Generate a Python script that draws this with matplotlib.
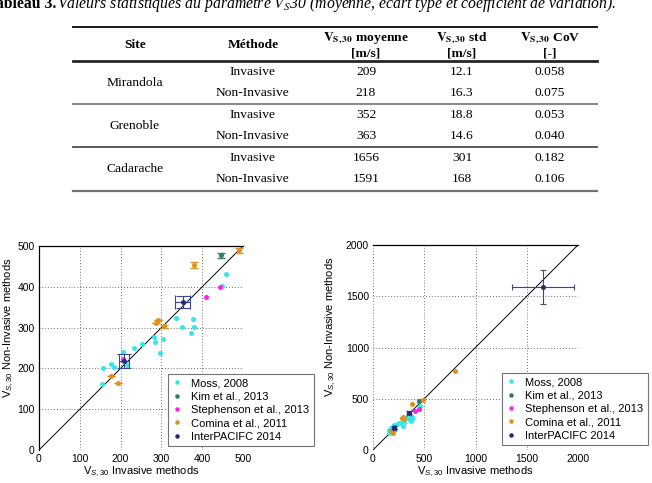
import matplotlib
matplotlib.use("Agg")
import matplotlib.pyplot as plt
from matplotlib.lines import Line2D

W, H = 652, 483

# Tableau 3 : valeurs statistiques de Vs30 par site
SITES = ["Mirandola", "Grenoble", "Cadarache"]
METHODS = ["Invasive", "Non-Invasive"]
VS30_MEAN = [[209, 218], [352, 363], [1656, 1591]]
VS30_STD = [[12.1, 16.3], [18.8, 14.6], [301, 168]]
VS30_COV = [[0.058, 0.075], [0.053, 0.040], [0.182, 0.106]]

# nuages de points (invasif, non-invasif)
MOSS_INV = [158, 155, 176, 185, 205, 215, 234, 252, 282, 284, 303, 296, 335, 350, 377, 381, 373, 448, 458]
MOSS_NON = [200, 162, 212, 204, 240, 209, 251, 260, 278, 264, 273, 238, 324, 301, 320, 301, 286, 403, 431]
KIM_INV = [445]
KIM_NON = [477]
KIM_ERR = [6]
STEPH_INV = [207, 409, 444]
STEPH_NON = [222, 376, 399]
COMINA_INV = [176, 193, 286, 291, 307, 381, 491, 800]
COMINA_NON = [182, 163, 311, 318, 303, 453, 490, 770]
COMINA_ERR = [0, 0, 0, 0, 4, 8, 6, 0]

LABELS = ["Moss, 2008", "Kim et al., 2013", "Stephenson et al., 2013",
          "Comina et al., 2011", "InterPACIFC 2014"]
COLORS = ["#33e8e8", "#2f7d66", "#ff22ee", "#e0901e", "#1f2a80"]

plt.rcParams["font.family"] = ["Liberation Sans", "DejaVu Sans"]
plt.rcParams["mathtext.fontset"] = "custom"
plt.rcParams["mathtext.rm"] = "Liberation Sans"
plt.rcParams["mathtext.it"] = "Liberation Sans:italic"
plt.rcParams["mathtext.bf"] = "Liberation Sans:bold"

fig = plt.figure(figsize=(W / 100, H / 100), dpi=100)


def fx(px):
    return px / W


def fy(py):
    return 1 - py / H


def hline(y, lw, color, x0=73, x1=597):
    fig.add_artist(Line2D([fx(x0), fx(x1)], [fy(y), fy(y)],
                          transform=fig.transFigure, lw=lw, color=color))


serif = dict(family=["Liberation Serif", "DejaVu Serif"], math_fontfamily="stix")

# légende du tableau (coupée en haut comme dans le document)
fig.text(fx(-13), fy(8.5), "Tableau 3.", fontsize=11.3, fontweight="bold",
         va="baseline", ha="left", **serif)
fig.text(fx(57), fy(8.5),
         r"Valeurs statistiques du paramètre $\mathit{V}_{\mathit{S}}$30 "
         "(moyenne, écart type et coefficient de variation).",
         fontsize=11.3, style="italic", va="baseline", ha="left", **serif)

# tableau
hline(27, 1.4, "0.1")
hline(61, 2.0, "0.15")
hline(104, 1.5, "0.55")
hline(147, 1.3, "0.3")
hline(191, 1.6, "0.45")

fs = 9.7
fig.text(fx(135), fy(45), "Site", ha="center", va="center", fontsize=fs, fontweight="bold", **serif)
fig.text(fx(253), fy(45), "Méthode", ha="center", va="center", fontsize=fs, fontweight="bold", **serif)
heads = [(366, r"$\mathbf{V_{S,30}}$ moyenne", "[m/s]"),
         (462, r"$\mathbf{V_{S,30}}$ std", "[m/s]"),
         (550, r"$\mathbf{V_{S,30}}$ CoV", "[-]")]
for x, l1, l2 in heads:
    fig.text(fx(x), fy(38), l1, ha="center", va="center", fontsize=fs, fontweight="bold", **serif)
    fig.text(fx(x), fy(54), l2, ha="center", va="center", fontsize=fs, fontweight="bold", **serif)

for i, site in enumerate(SITES):
    fig.text(fx(135), fy(83 + 43 * i), site, ha="center", va="center", fontsize=fs, **serif)
    for j, meth in enumerate(METHODS):
        y = fy(72 + 43 * i + 21 * j)
        fig.text(fx(253), y, meth, ha="center", va="center", fontsize=fs, **serif)
        fig.text(fx(366), y, f"{VS30_MEAN[i][j]}", ha="center", va="center", fontsize=fs, **serif)
        fig.text(fx(462), y, f"{VS30_STD[i][j]:g}", ha="center", va="center", fontsize=fs, **serif)
        fig.text(fx(550), y, f"{VS30_COV[i][j]:.3f}", ha="center", va="center", fontsize=fs, **serif)

inter_inv = [m[0] for m in VS30_MEAN]
inter_non = [m[1] for m in VS30_MEAN]
inter_xerr = [s[0] for s in VS30_STD]
inter_yerr = [s[1] for s in VS30_STD]


def scatter_panel(ax, vmax, step, capsize, leg_box, ylab_x, show_left):
    ax.plot([0, vmax], [0, vmax], color="k", lw=0.7, zorder=2)
    ms = 3.6
    ax.plot(MOSS_INV, MOSS_NON, "o", ms=ms, mew=0, color=COLORS[0], label=LABELS[0], zorder=3)
    ax.errorbar(KIM_INV, KIM_NON, yerr=KIM_ERR, fmt="none", ecolor=COLORS[1],
                elinewidth=0.8, capsize=capsize * 0.6, zorder=3)
    ax.plot(KIM_INV, KIM_NON, "o", ms=ms, mew=0, color=COLORS[1], label=LABELS[1], zorder=4)
    ax.plot(STEPH_INV, STEPH_NON, "o", ms=ms, mew=0, color=COLORS[2], label=LABELS[2], zorder=4)
    ax.errorbar(COMINA_INV, COMINA_NON, yerr=COMINA_ERR, fmt="none", ecolor=COLORS[3],
                elinewidth=0.8, capsize=capsize * 0.6, zorder=3)
    ax.plot(COMINA_INV, COMINA_NON, "o", ms=ms, mew=0, color=COLORS[3], label=LABELS[3], zorder=4)
    ax.errorbar(inter_inv, inter_non, xerr=inter_xerr, yerr=inter_yerr, fmt="none",
                ecolor="#3a4690", elinewidth=0.8, capsize=capsize, capthick=0.8, zorder=4)
    ax.plot(inter_inv, inter_non, "o", ms=ms, mew=0, color=COLORS[4], label=LABELS[4], zorder=5)

    ax.set_xlim(0, vmax)
    ax.set_ylim(0, vmax)
    ticks = list(range(0, vmax + 1, step))
    ax.set_xticks(ticks)
    ax.set_yticks(ticks)
    ax.tick_params(labelsize=7.5, length=0, pad=3)
    ax.grid(True, color="0.25", lw=0.6, ls=(0, (1, 2.5)))
    ax.set_axisbelow(True)
    ax.spines["right"].set_visible(False)
    ax.spines["bottom"].set_visible(False)
    ax.spines["left"].set_visible(show_left)
    ax.spines["top"].set_linewidth(0.9)
    ax.spines["left"].set_linewidth(0.9)

    ax.set_xlabel(r"V$_{S,30}$ Invasive methods", fontsize=8)
    ax.set_ylabel(r"V$_{S,30}$ Non-Invasive methods", fontsize=8)
    ax.xaxis.set_label_coords(0.5, -0.07)
    ax.yaxis.set_label_coords(ylab_x, 0.6)

    x0, y0 = leg_box
    leg = ax.legend(loc="lower left", bbox_to_anchor=(fx(x0), fy(y0)),
                    bbox_transform=fig.transFigure, fontsize=8, frameon=True,
                    fancybox=False, framealpha=1, edgecolor="0.45",
                    handlelength=0.8, handletextpad=0.9, labelspacing=0.3,
                    borderpad=0.4, borderaxespad=0, markerscale=0.9)
    leg.get_frame().set_linewidth(0.8)


ax1 = fig.add_axes([fx(39), fy(450), 204 / W, 204 / H])
scatter_panel(ax1, 500, 100, 5, (168, 446), -0.115, True)

ax2 = fig.add_axes([fx(373), fy(450), 205 / W, 205 / H])
scatter_panel(ax2, 2000, 500, 2, (502, 445), -0.17, False)

fig.savefig("out.png", dpi=100)
